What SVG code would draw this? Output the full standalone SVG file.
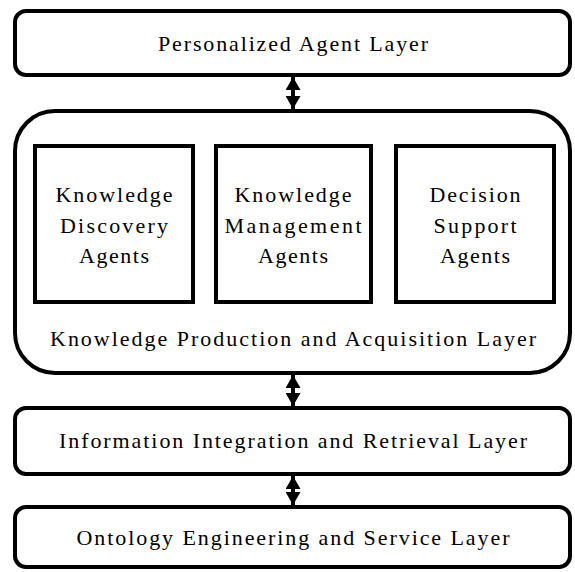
<svg xmlns="http://www.w3.org/2000/svg" width="575" height="572" viewBox="0 0 575 572">
<defs>
<style>
.layer{fill:#fff;stroke:#000;stroke-width:4}
.agent{fill:#fff;stroke:#000;stroke-width:4}
.conn{stroke:#000;stroke-width:4;fill:none}
</style>
<marker id="ah" viewBox="0 0 13 15" refX="13" refY="7.5" markerWidth="13" markerHeight="15" markerUnits="userSpaceOnUse" orient="auto-start-reverse">
<path d="M0,0 L13,7.5 L0,15 Z" fill="#000"/>
</marker>
</defs>
<g font-family="'Liberation Serif', serif" font-size="22" text-anchor="middle" fill="#000">
<g id="personalized">
<rect class="layer" x="15" y="11" width="555" height="64" rx="11"/>
<text x="293" y="51" textLength="270" lengthAdjust="spacing">Personalized Agent Layer</text>
</g>
<g id="production">
<rect class="layer" x="15" y="111" width="555" height="262" rx="40"/>
<text x="293" y="346" textLength="486" lengthAdjust="spacing">Knowledge Production and Acquisition Layer</text>
</g>
<g id="discovery">
<rect class="agent" x="35" y="146" width="158" height="156"/>
<text x="114" y="202" textLength="117" lengthAdjust="spacing">Knowledge</text>
<text x="114" y="233" textLength="108" lengthAdjust="spacing">Discovery</text>
<text x="114" y="263" textLength="70" lengthAdjust="spacing">Agents</text>
</g>
<g id="management">
<rect class="agent" x="216" y="146" width="155" height="156"/>
<text x="293" y="202" textLength="117" lengthAdjust="spacing">Knowledge</text>
<text x="293" y="233" textLength="137" lengthAdjust="spacing">Management</text>
<text x="293" y="263" textLength="70" lengthAdjust="spacing">Agents</text>
</g>
<g id="decision">
<rect class="agent" x="396" y="146" width="158" height="156"/>
<text x="475" y="202" textLength="91" lengthAdjust="spacing">Decision</text>
<text x="475" y="233" textLength="83" lengthAdjust="spacing">Support</text>
<text x="475" y="263" textLength="70" lengthAdjust="spacing">Agents</text>
</g>
<g id="integration">
<rect class="layer" x="15" y="408" width="555" height="66" rx="11"/>
<text x="293" y="448" textLength="468" lengthAdjust="spacing">Information Integration and Retrieval Layer</text>
</g>
<g id="ontology">
<rect class="layer" x="15" y="507" width="555" height="60" rx="11"/>
<text x="293" y="545" textLength="433" lengthAdjust="spacing">Ontology Engineering and Service Layer</text>
</g>
</g>
<g id="connectors">
<path class="conn" d="M293,93 L293,77" marker-end="url(#ah)"/>
<path class="conn" d="M293,93 L293,109" marker-end="url(#ah)"/>
<path class="conn" d="M293,391 L293,375" marker-end="url(#ah)"/>
<path class="conn" d="M293,391 L293,406" marker-end="url(#ah)"/>
<path class="conn" d="M293,491 L293,476" marker-end="url(#ah)"/>
<path class="conn" d="M293,491 L293,505" marker-end="url(#ah)"/>
</g>
</svg>
